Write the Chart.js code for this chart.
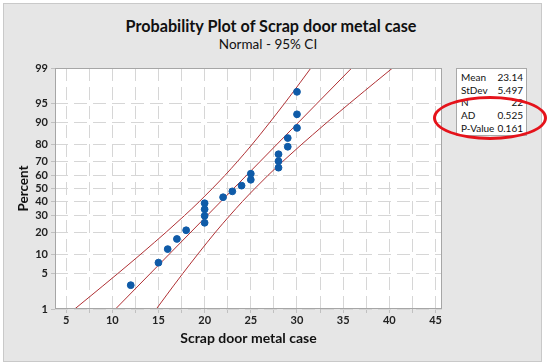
<!DOCTYPE html>
<html>
<head>
<meta charset="utf-8">
<script src="https://cdn.jsdelivr.net/npm/chart.js@4.4.1/dist/chart.umd.min.js"></script>
<style>
    body { margin: 0; background: #fff; font-family: Lato, sans-serif; }
    #fig { position: absolute; left: 3px; top: 3px; width: 537px; height: 357px; background: #e6e6e6; border: 1px solid #c9c9c9; }
    #titulo { position: absolute; left: 0; width: 542px; top: 16px; text-align: center; font-size: 16.2px; font-weight: bold; color: #111; }
    #subtitulo { position: absolute; left: 0; width: 536px; top: 36px; text-align: center; font-size: 13.5px; color: #111; }
    #grafico { position: absolute; left: 0; top: 0; }
    #stats { position: absolute; left: 456px; top: 68px; width: 71px; height: 68px; background: #fff; border: 1px solid #a9a9a9; font-size: 10px; color: #111; padding-top: 2px; box-sizing: border-box; white-space: nowrap; }
    #stats div { display: flex; justify-content: space-between; padding: 0 3px 0 4px; line-height: 12.7px; }
    #elipse { position: absolute; left: 433px; top: 96px; width: 108px; height: 38px; border: 3px solid #e5131b; border-radius: 50%; }
</style>
</head>
<body>
<div id="fig"></div>
<div id="titulo">Probability Plot of Scrap door metal case</div>
<div id="subtitulo">Normal - 95% CI</div>
<canvas id="grafico" width="550" height="364"></canvas>
<div id="stats"></div>
<div id="elipse"></div>
<script>
// Dados da amostra (valores e percentis)
const valores = [12, 15, 16, 17, 18, 20, 20, 20, 20, 22, 23, 24, 25, 25, 28, 28, 28, 29, 29, 30, 30, 30];
const percentis = [3.1, 7.6, 12.1, 16.5, 21.0, 25.4, 29.9, 34.4, 38.8, 43.3, 47.8, 52.2, 56.7, 61.2, 65.6, 70.1, 74.6, 79.0, 83.5, 87.9, 92.4, 96.9];

// Linha ajustada (percentual -> valor)
const ajustePct = [1, 99];
const ajusteX = [10.35, 35.93];

// Bandas de confiança 95%
const bandaPct = [1, 2, 3, 5, 7, 10, 15, 20, 30, 40, 50, 60, 70, 80, 85, 90, 93, 95, 97, 98, 99];
const bandaInf = [5.93, 7.80, 8.98, 10.58, 11.71, 13.00, 14.59, 15.84, 17.81, 19.42, 20.84, 22.20, 23.57, 25.10, 25.99, 27.08, 27.93, 28.66, 29.66, 30.38, 31.51];
const bandaSup = [14.77, 15.90, 16.62, 17.62, 18.35, 19.20, 20.29, 21.18, 22.71, 24.08, 25.44, 26.86, 28.47, 30.44, 31.69, 33.28, 34.57, 35.70, 37.30, 38.48, 40.35];

// Eixos
const ticksPercent = [1, 5, 10, 20, 30, 40, 50, 60, 70, 80, 90, 95, 99];
const ticksX = [5, 10, 15, 20, 25, 30, 35, 40, 45];

// Estatísticas
const estatNomes = ["Mean", "StDev", "N", "AD", "P-Value"];
const estatValores = ["23.14", "5.497", "22", "0.525", "0.161"];

document.getElementById("stats").innerHTML = estatNomes.map((n, i) =>
    `<div><span>${n}</span><span>${estatValores[i]}</span></div>`).join("");

// Inversa da normal padrão (Acklam)
function probit(p) {
    const a = [-3.969683028665376e+01, 2.209460984245205e+02, -2.759285104469687e+02, 1.383577518672690e+02, -3.066479806614716e+01, 2.506628277459239e+00];
    const b = [-5.447609879822406e+01, 1.615858368580409e+02, -1.556989798598866e+02, 6.680131188771972e+01, -1.328068155288572e+01];
    const c = [-7.784894002430293e-03, -3.223964580411365e-01, -2.400758277161838e+00, -2.549732539343734e+00, 4.374664141464968e+00, 2.938163982698783e+00];
    const d = [7.784695709041462e-03, 3.224671290700398e-01, 2.445134137142996e+00, 3.754408661907416e+00];
    const pl = 0.02425;
    if (p < pl) {
        const q = Math.sqrt(-2 * Math.log(p));
        return (((((c[0]*q+c[1])*q+c[2])*q+c[3])*q+c[4])*q+c[5]) / ((((d[0]*q+d[1])*q+d[2])*q+d[3])*q+1);
    }
    if (p > 1 - pl) {
        const q = Math.sqrt(-2 * Math.log(1 - p));
        return -(((((c[0]*q+c[1])*q+c[2])*q+c[3])*q+c[4])*q+c[5]) / ((((d[0]*q+d[1])*q+d[2])*q+d[3])*q+1);
    }
    const q = p - 0.5, r = q * q;
    return (((((a[0]*r+a[1])*r+a[2])*r+a[3])*r+a[4])*r+a[5])*q / (((((b[0]*r+b[1])*r+b[2])*r+b[3])*r+b[4])*r+1);
}

// Escala de probabilidade normal
class EscalaProbabilidade extends Chart.Scale {
    determineDataLimits() {
        this.min = this.options.min;
        this.max = this.options.max;
    }
    buildTicks() {
        return ticksPercent.map(v => ({ value: v }));
    }
    getLabelForValue(v) {
        return String(v);
    }
    configure() {
        super.configure();
        this._zIni = probit(this.min / 100);
        this._zFaixa = probit(this.max / 100) - this._zIni;
    }
    getPixelForValue(v) {
        return this.getPixelForDecimal((probit(v / 100) - this._zIni) / this._zFaixa);
    }
    getValueForPixel(px) {
        return this._zIni + this.getDecimalForPixel(px) * this._zFaixa;
    }
}
EscalaProbabilidade.id = "probabilidade";
EscalaProbabilidade.defaults = {};
Chart.register(EscalaProbabilidade);

// Fundo branco e moldura da área do gráfico
const moldura = {
    id: "moldura",
    beforeDraw(chart) {
        const { ctx, chartArea: a } = chart;
        ctx.save();
        ctx.fillStyle = "#fff";
        ctx.fillRect(a.left, a.top, a.right - a.left, a.bottom - a.top);
        ctx.restore();
    },
    afterDraw(chart) {
        const { ctx, chartArea: a } = chart;
        ctx.save();
        ctx.strokeStyle = "#a6a6a6";
        ctx.lineWidth = 1;
        ctx.strokeRect(a.left + 0.5, a.top + 0.5, a.right - a.left - 1, a.bottom - a.top - 1);
        ctx.restore();
    }
};

const corBanda = "#b03034";
const pares = (xs, ys) => xs.map((x, i) => ({ x: x, y: ys[i] }));

new Chart(document.getElementById("grafico").getContext("2d"), {
    type: "scatter",
    data: {
        datasets: [
            {
                data: pares(valores, percentis),
                backgroundColor: "#0f5ba8",
                borderColor: "#0f5ba8",
                pointRadius: 3.4,
                showLine: false
            },
            {
                data: pares(ajusteX, ajustePct),
                borderColor: corBanda,
                borderWidth: 1,
                pointRadius: 0,
                showLine: true
            },
            {
                data: pares(bandaInf, bandaPct),
                borderColor: corBanda,
                borderWidth: 1,
                pointRadius: 0,
                showLine: true,
                cubicInterpolationMode: "monotone"
            },
            {
                data: pares(bandaSup, bandaPct),
                borderColor: corBanda,
                borderWidth: 1,
                pointRadius: 0,
                showLine: true,
                cubicInterpolationMode: "monotone"
            }
        ]
    },
    options: {
        responsive: false,
        animation: false,
        events: [],
        layout: { padding: { left: 0, top: 68, right: 108, bottom: 10 } },
        plugins: {
            legend: { display: false },
            tooltip: { enabled: false }
        },
        scales: {
            x: {
                type: "linear",
                min: 3.8,
                max: 45.7,
                afterFit: s => { s.height = 45; },
                afterBuildTicks: s => { s.ticks = [];
                    for (let v = 5; v <= 45; v += 2.5) s.ticks.push({ value: v }); },
                ticks: {
                    includeBounds: false,
                    maxRotation: 0,
                    autoSkip: false,
                    color: "#222",
                    font: { family: "Lato", size: 11, weight: "bold" },
                    padding: 1,
                    callback: v => ticksX.includes(v) ? String(v) : ""
                },
                grid: { color: "#d6d6d6", tickColor: "#c0c0c0", tickLength: 4 },
                border: { display: false, dash: [13, 6] },
                title: {
                    display: true,
                    text: "Scrap door metal case",
                    color: "#111",
                    font: { family: "Lato", size: 14, weight: "bold" },
                    padding: { top: 3, bottom: 7 }
                }
            },
            y: {
                type: "probabilidade",
                min: 1,
                max: 99,
                afterFit: s => { s.width = 55; },
                ticks: {
                    color: "#222",
                    font: { family: "Lato", size: 11, weight: "bold" },
                    padding: 3
                },
                grid: { color: "#d6d6d6", tickColor: "#c0c0c0", tickLength: 4 },
                border: { display: false, dash: [13, 6] },
                title: {
                    display: true,
                    text: "Percent",
                    color: "#111",
                    font: { family: "Lato", size: 13.5, weight: "bold" },
                    padding: { top: 16, bottom: 6 }
                }
            }
        }
    },
    plugins: [moldura]
});
</script>
</body>
</html>
